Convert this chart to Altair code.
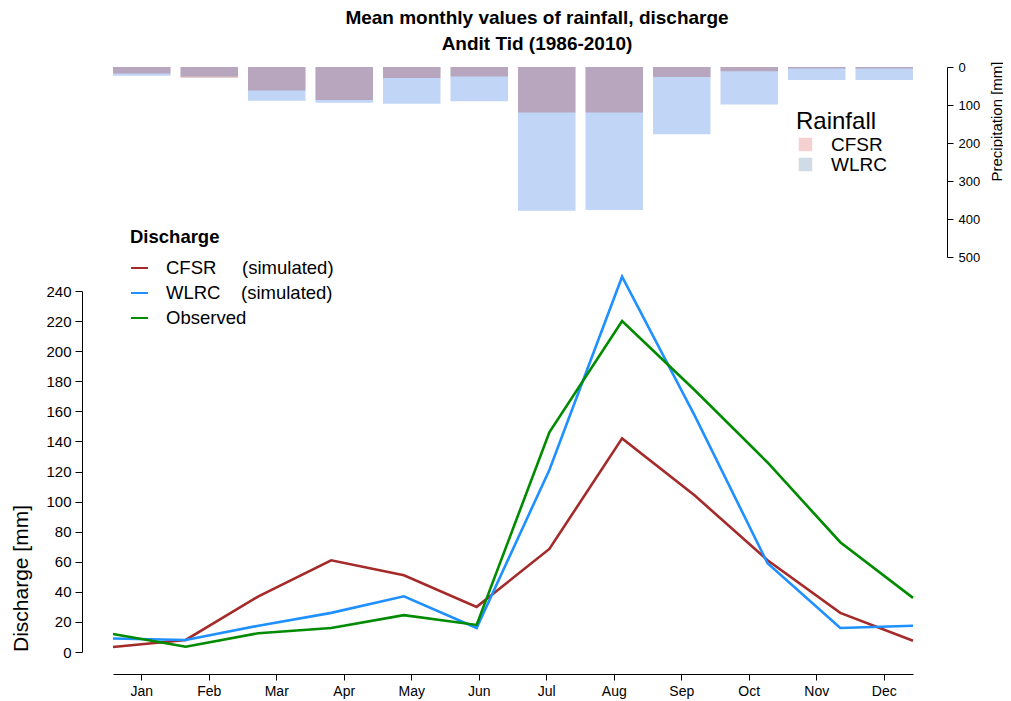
import altair as alt
import pandas as pd

months = ["Jan", "Feb", "Mar", "Apr", "May", "Jun", "Jul", "Aug", "Sep", "Oct", "Nov", "Dec"]

# Rainfall (mm) - top bars
rain_cfsr = [17, 28, 62, 87, 29, 25, 120, 120, 26, 11, 4, 4]
rain_wlrc = [23, 25, 89, 94, 97, 90, 378, 376, 177, 99, 34, 34]

# Discharge (mm) - lines
q_cfsr = [3.3, 8, 37, 61, 51, 30, 68.5, 142, 104, 61, 26, 7.5]
q_wlrc = [9, 8, 17.5, 26, 37, 16, 121, 249.5, 157, 59, 16, 17.5]
q_obs = [12, 3.5, 12.5, 16, 24.5, 18, 146, 220, 174, 126, 73, 36]

series_names = ["CFSR", "WLRC", "Observed"]
rain_sources = ["CFSR", "WLRC"]

FONT = "Liberation Sans"

rain = pd.DataFrame({"month": months, "CFSR": rain_cfsr, "WLRC": rain_wlrc})
rain_legend = pd.DataFrame({"month": months[:2], "source": rain_sources, "zero": [0, 0]})
q = pd.DataFrame({
    "month": months * 3,
    "series": [series_names[0]] * 12 + [series_names[1]] * 12 + [series_names[2]] * 12,
    "value": q_cfsr + q_wlrc + q_obs,
})

x_band = alt.X(
    "month:N", sort=months,
    scale=alt.Scale(type="band", paddingInner=0.148, paddingOuter=0),
    axis=alt.Axis(title=None, orient="bottom", labelAngle=0, tickSize=6, labelFontSize=14,
                  labelPadding=4, domainColor="black", tickColor="black"),
)

y_rain_scale = alt.Scale(domain=[0, 500], range=[7, 197], nice=False)
y_rain_axis = alt.Axis(orient="right", title="Precipitation [mm]", values=[0, 100, 200, 300, 400, 500],
                       offset=34, tickSize=6, labelFontSize=13, labelPadding=5,
                       titleFontSize=15, titleFontWeight="normal", titleAngle=270,
                       titleBaseline="middle", titleX=49, titleY=61)

wlrc_bars = alt.Chart(rain).mark_bar(color="#c1d5f7").encode(
    x=x_band, y=alt.Y("WLRC:Q", scale=y_rain_scale, axis=y_rain_axis)
)
cfsr_bars = alt.Chart(rain).mark_bar(color="#aa5f6b", opacity=0.4).encode(
    x=x_band, y=alt.Y("CFSR:Q", scale=y_rain_scale, axis=y_rain_axis)
)
rain_key = alt.Chart(rain_legend).mark_bar().encode(
    x=x_band,
    y=alt.Y("zero:Q", scale=y_rain_scale, axis=y_rain_axis),
    fill=alt.Fill("source:N",
                  scale=alt.Scale(domain=rain_sources, range=["#f5d0d0", "#cfdbe6"]),
                  legend=alt.Legend(title="Rainfall", orient="none", legendX=683, legendY=50,
                                    titleFontSize=24, titleFontWeight="normal", labelFontSize=19,
                                    symbolType="square", symbolSize=182, symbolStrokeWidth=0,
                                    labelOffset=16, rowPadding=-3, titlePadding=1)),
)
rain_layer = alt.layer(wlrc_bars, cfsr_bars, rain_key)

nb = "\u00a0"
label_expr = (
    "datum.label == 'CFSR' ? 'CFSR" + nb * 5 + "(simulated)' : "
    "datum.label == 'WLRC' ? 'WLRC" + nb * 4 + "(simulated)' : datum.label"
)

lines = alt.Chart(q).mark_line(strokeWidth=2.6).encode(
    x=alt.X("month:N", sort=months, scale=alt.Scale(type="point", padding=0), axis=None),
    y=alt.Y("value:Q", scale=alt.Scale(domain=[0, 240], range=[592, 231], nice=False),
            axis=alt.Axis(orient="left", title="Discharge [mm]", values=list(range(0, 241, 20)),
                          offset=31, tickSize=7, labelFontSize=15, labelPadding=4,
                          titleFontSize=21, titleFontWeight="normal", titleAngle=270,
                          titleBaseline="middle", titleX=-61, titleY=518)),
    color=alt.Color("series:N",
                    scale=alt.Scale(domain=series_names, range=["#a52a2a", "#1e90ff", "#008b00"]),
                    legend=alt.Legend(title="Discharge", orient="none", legendX=17, legendY=168,
                                      titleFontSize=18.5, titleFontWeight="bold", labelFontSize=18.5,
                                      symbolType="stroke", symbolSize=289, symbolStrokeWidth=2,
                                      rowPadding=6, labelOffset=17, titlePadding=12, labelLimit=300,
                                      labelExpr=label_expr)),
)

chart = alt.layer(rain_layer, lines).resolve_scale(
    x="independent", y="independent", color="independent"
).properties(
    width=800, height=614,
    autosize=alt.AutoSizeParams(type="none"),
    padding={"left": 105, "top": 52, "right": 90, "bottom": 25},
    title=alt.Title(["Mean monthly values of rainfall, discharge", "Andit Tid (1986-2010)"],
                    fontSize=19, fontWeight="bold", anchor="middle", dx=24, lineHeight=26, offset=6),
).configure_axis(
    grid=False, domainColor="black", tickColor="black", labelColor="black", titleColor="black",
    labelFont=FONT, titleFont=FONT,
).configure_legend(
    labelFont=FONT, titleFont=FONT, labelColor="black", titleColor="black",
).configure_title(font=FONT, color="black").configure_view(stroke=None)

chart.save("out.html", embed_options={"renderer": "svg", "actions": False})
